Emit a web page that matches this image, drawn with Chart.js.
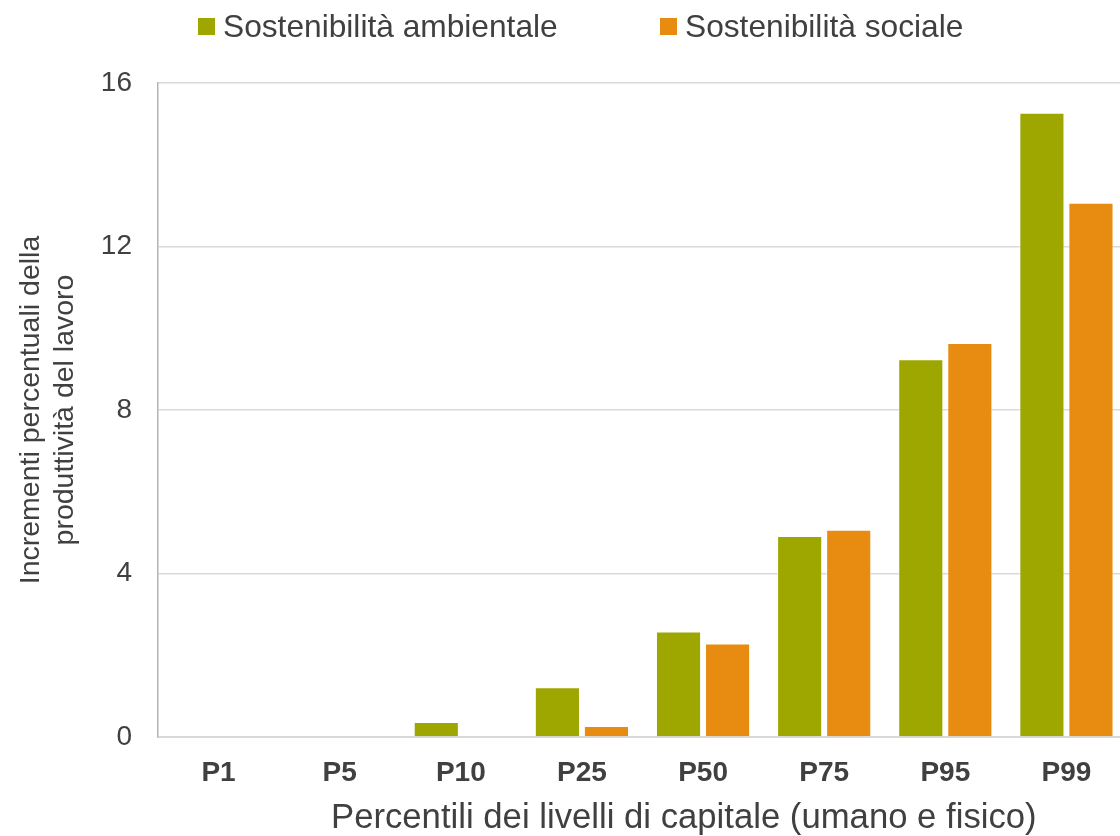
<!DOCTYPE html>
<html>
<head>
<meta charset="utf-8">
<script src="https://cdn.jsdelivr.net/npm/chart.js@4"></script>
<style>
  html, body { margin: 0; padding: 0; background: #fff; overflow: hidden; }
  #wrap { position: relative; width: 1128px; height: 836px; overflow: hidden; }
  #legend { position: absolute; top: 0; left: 0; width: 1120px; height: 60px;
    font-family: "Liberation Sans", Arial, sans-serif; font-size: 31.7px; color: #404040; }
  .item { position: absolute; top: 8px; line-height: 36px; white-space: nowrap; }
  .item .box { position: absolute; left: 0; top: 10px; width: 17px; height: 17px; }
  .item span.txt { position: absolute; left: 25px; top: 0; }
  #xTitle { position: absolute; left: 331px; top: 796px; white-space: nowrap;
    font-family: "Liberation Sans", Arial, sans-serif; font-size: 34.7px; line-height: 40px; color: #404040; }
</style>
</head>
<body>
<div id="wrap">
  <canvas id="barChart" width="1128" height="836"></canvas>
  <div id="legend"></div>
  <div id="xTitle"></div>
</div>
<script>
const categories = ["P1", "P5", "P10", "P25", "P50", "P75", "P95", "P99"];
const seriesNames = ["Sostenibilità ambientale", "Sostenibilità sociale"];
const ambientale = [0, 0, 0.37, 1.22, 2.58, 4.92, 9.24, 15.27];
const sociale = [0, 0, 0, 0.27, 2.29, 5.07, 9.64, 13.07];
const yTicks = [0, 4, 8, 12, 16];
const colors = ["#9EA700", "#E88B11"];
const xTitleText = "Percentili dei livelli di capitale (umano e fisico)";
const yTitleText = ["Incrementi percentuali della", "produttività del lavoro"];

const textColor = "#404040";
const fontFamily = '"Liberation Sans", Arial, sans-serif';

// legend and x title as html so they can sit where the original has them
const legendPos = [198, 660];
const legend = document.getElementById("legend");
seriesNames.forEach((name, i) => {
  const item = document.createElement("div");
  item.className = "item";
  item.style.left = legendPos[i] + "px";
  item.innerHTML = '<span class="box" style="background:' + colors[i] + '"></span><span class="txt">' + name + "</span>";
  legend.appendChild(item);
});
document.getElementById("xTitle").textContent = xTitleText;

const ctx = document.getElementById("barChart").getContext("2d");

const chart = new Chart(ctx, {
  type: "bar",
  data: {
    labels: categories,
    datasets: [
      {
        label: seriesNames[0],
        data: ambientale,
        backgroundColor: colors[0],
        borderColor: "rgba(255, 255, 255, 0.55)",
        borderWidth: 1,
        categoryPercentage: 0.81,
        barPercentage: 0.92,
      },
      {
        label: seriesNames[1],
        data: sociale,
        backgroundColor: colors[1],
        borderColor: "rgba(255, 255, 255, 0.55)",
        borderWidth: 1,
        categoryPercentage: 0.81,
        barPercentage: 0.92,
      },
    ],
  },
  options: {
    responsive: false,
    animation: false,
    layout: {
      padding: { top: 83, right: 1, left: 0, bottom: 0 },
    },
    plugins: {
      legend: { display: false },
      tooltip: { enabled: false },
    },
    scales: {
      x: {
        grid: { display: false },
        border: { display: true, color: "#D9D9D9", width: 2 },
        ticks: {
          color: textColor,
          padding: 11,
          font: { family: fontFamily, size: 28, weight: "bold" },
        },
        afterFit: (scale) => {
          scale.height = 99;
        },
      },
      y: {
        min: 0,
        max: 16,
        afterBuildTicks: (scale) => {
          scale.ticks = yTicks.map((v) => ({ value: v }));
        },
        grid: { color: "#D9D9D9", lineWidth: 1.5, drawTicks: false },
        border: { display: true, color: "#B3B3B3", width: 1.5 },
        ticks: {
          color: textColor,
          padding: 26,
          font: { family: fontFamily, size: 28 },
        },
        title: {
          display: true,
          text: yTitleText,
          color: textColor,
          padding: { top: 14, bottom: 0 },
          font: { family: fontFamily, size: 28.5 },
        },
        afterFit: (scale) => {
          scale.width = 158;
        },
      },
    },
  },
});
</script>
</body>
</html>
